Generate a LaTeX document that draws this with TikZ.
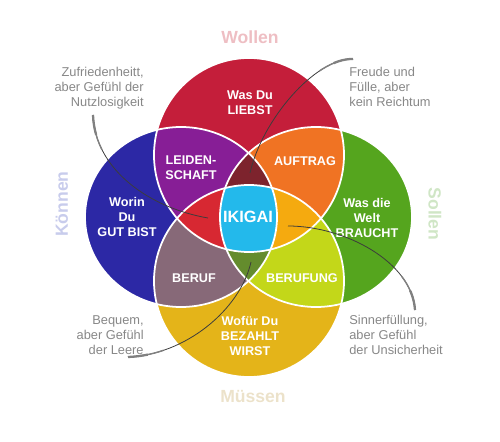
\documentclass[tikz,border=0pt]{standalone}
\usepackage{fontspec}
\setmainfont{Liberation Sans}
\usepackage{tikz}
\usepackage{xcolor}
\usetikzlibrary{positioning}

\definecolor{liebstred}{RGB}{196,30,58}
\definecolor{gutblue}{RGB}{44,40,165}
\definecolor{weltgreen}{RGB}{85,165,30}
\definecolor{bezahltyellow}{RGB}{228,180,25}
\definecolor{leidpurple}{RGB}{135,30,150}
\definecolor{auftorange}{RGB}{240,115,35}
\definecolor{berufgray}{RGB}{135,105,120}
\definecolor{berufunglime}{RGB}{195,215,25}
\definecolor{topbrown}{RGB}{125,35,45}
\definecolor{leftred}{RGB}{215,40,50}
\definecolor{rightamber}{RGB}{245,170,15}
\definecolor{bottomolive}{RGB}{100,140,45}
\definecolor{ikigaicyan}{RGB}{35,185,235}
\definecolor{notegray}{RGB}{135,135,135}
\definecolor{leadgray}{RGB}{60,60,60}
\definecolor{wollenpink}{RGB}{238,190,195}
\definecolor{koennenblue}{RGB}{200,204,236}
\definecolor{sollengreen}{RGB}{208,230,198}
\definecolor{muessenbeige}{RGB}{236,226,202}

\newcommand{\wollenshape}{(249,155) ellipse [x radius=95, y radius=97]}
\newcommand{\koennenshape}{(181,217) ellipse [x radius=96, y radius=90]}
\newcommand{\sollenshape}{(316,217) ellipse [x radius=96, y radius=90]}
\newcommand{\muessenshape}{(249,281) ellipse [x radius=95, y radius=96]}

\tikzset{
  field/.style={text=white, font=\bfseries\fontsize{7.2}{8.5}\selectfont, align=center, inner sep=0pt},
  note/.style={text=notegray, font=\fontsize{7.3}{8.5}\selectfont, inner sep=0pt},
  dimension/.style={font=\bfseries\fontsize{10}{12}\selectfont, inner sep=0pt},
  leader/.style={draw=leadgray, line width=0.45pt},
  rim/.style={draw=white, line width=1pt}
}

\begin{document}
\begin{tikzpicture}[x=0.02cm, y=-0.02cm]
\useasboundingbox (0,0) rectangle (500,442);

% the four circles
\fill[liebstred] \wollenshape;
\fill[gutblue] \koennenshape;
\fill[weltgreen] \sollenshape;
\fill[bezahltyellow] \muessenshape;

% overlaps of two
\begin{scope}
  \clip \wollenshape;
  \fill[leidpurple] \koennenshape;
  \fill[auftorange] \sollenshape;
\end{scope}
\begin{scope}
  \clip \muessenshape;
  \fill[berufgray] \koennenshape;
  \fill[berufunglime] \sollenshape;
\end{scope}

% overlaps of three
\begin{scope}
  \clip \wollenshape; \clip \koennenshape;
  \fill[topbrown] \sollenshape;
  \fill[leftred] \muessenshape;
\end{scope}
\begin{scope}
  \clip \muessenshape; \clip \sollenshape;
  \fill[rightamber] \wollenshape;
  \fill[bottomolive] \koennenshape;
\end{scope}

% centre
\begin{scope}
  \clip \wollenshape; \clip \koennenshape; \clip \sollenshape;
  \fill[ikigaicyan] \muessenshape;
\end{scope}

\draw[rim] \wollenshape;
\draw[rim] \koennenshape;
\draw[rim] \sollenshape;
\draw[rim] \muessenshape;

% fields
\node[field] (liebst) at (250,103) {Was Du\\LIEBST};
\node[field] (leidenschaft) at (191,168) {LEIDEN-\\SCHAFT};
\node[field] (auftrag) at (305,161) {AUFTRAG};
\node[field] (gutbist) at (127,217) {Worin\\Du\\GUT BIST};
\node[field, font=\bfseries\fontsize{9.3}{11}\selectfont] (ikigai) at (248,217) {IKIGAI};
\node[field] (braucht) at (367,218) {Was die\\Welt\\BRAUCHT};
\node[field] (beruf) at (194,278) {BERUF};
\node[field] (berufung) at (302,278) {BERUFUNG};
\node[field] (bezahlt) at (250,336) {Wofür Du\\BEZAHLT\\WIRST};

% dimensions
\node[dimension, text=wollenpink] (wollen) at (250,37) {Wollen};
\node[dimension, text=koennenblue, rotate=90] (koennen) at (62,204) {Können};
\node[dimension, text=sollengreen, rotate=-90] (sollen) at (435,214) {Sollen};
\node[dimension, text=muessenbeige] (muessen) at (253,397) {Müssen};

% notes
\node[note, align=right, anchor=east] (zufrieden) at (144,88) {Zufriedenheitt,\\aber Gefühl der\\Nutzlosigkeit};
\node[note, align=left, anchor=west] (freude) at (349,87) {Freude und\\Fülle, aber\\kein Reichtum};
\node[note, align=right, anchor=east] (bequem) at (144,335) {Bequem,\\aber Gefühl\\der Leere};
\node[note, align=left, anchor=west] (sinn) at (349,335) {Sinnerfüllung,\\aber Gefühl\\der Unsicherheit};

% leader lines
\coordinate (zufrieden-tip) at (93,115);
\coordinate (freude-tip) at (353,59);
\coordinate (bequem-tip) at (128,357);
\coordinate (sinn-tip) at (415,310);
\coordinate (ikigai-west) at (208,218);
\coordinate (ikigai-north) at (250,173);
\coordinate (ikigai-south) at (251,262);
\coordinate (ikigai-east) at (288,226);
\draw[leader] (zufrieden-tip) .. controls (95,170) and (150,208) .. (ikigai-west);
\draw[leader] (freude-tip) .. controls (315,58) and (262,120) .. (ikigai-north);
\draw[leader] (bequem-tip) .. controls (185,355) and (240,310) .. (ikigai-south);
\draw[leader] (ikigai-east) .. controls (345,226) and (412,262) .. (sinn-tip);
% thicker grey ends
\foreach \r/\w in {36/0.8pt, 20/1.3pt} {
  \begin{scope}
    \clip (zufrieden-tip) circle (\r);
    \draw[leader, draw=gray, line width=\w] (zufrieden-tip) .. controls (95,170) and (150,208) .. (ikigai-west);
  \end{scope}
  \begin{scope}
    \clip (freude-tip) circle (\r);
    \draw[leader, draw=gray, line width=\w] (freude-tip) .. controls (315,58) and (262,120) .. (ikigai-north);
  \end{scope}
  \begin{scope}
    \clip (bequem-tip) circle (\r);
    \draw[leader, draw=gray, line width=\w] (bequem-tip) .. controls (185,355) and (240,310) .. (ikigai-south);
  \end{scope}
  \begin{scope}
    \clip (sinn-tip) circle (\r);
    \draw[leader, draw=gray, line width=\w] (ikigai-east) .. controls (345,226) and (412,262) .. (sinn-tip);
  \end{scope}
}
\end{tikzpicture}
\end{document}
